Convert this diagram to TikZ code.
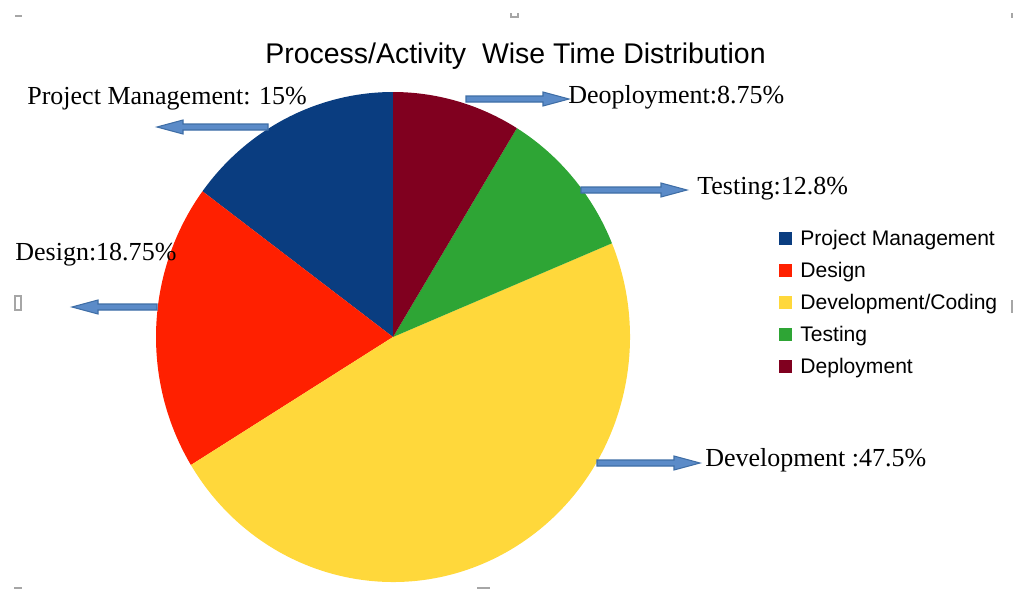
\documentclass[tikz,border=0pt]{standalone}
\usepackage{fontspec}
\setmainfont{Liberation Serif}
\newfontfamily\chartsans{Liberation Sans}
\usetikzlibrary{positioning}
\definecolor{pmblue}{HTML}{0A3D80}
\definecolor{desred}{HTML}{FF2000}
\definecolor{devyellow}{HTML}{FFD83B}
\definecolor{testgreen}{HTML}{2EA535}
\definecolor{depmaroon}{HTML}{80001F}
\definecolor{arrfill}{HTML}{5B8BC8}
\definecolor{arrline}{HTML}{3F6EA6}
\tikzset{
  lbl/.style={font=\fontsize{14.8}{17}\selectfont, inner sep=0pt, anchor=base west},
  legtext/.style={font=\chartsans\fontsize{12}{14}\selectfont, inner sep=0pt, anchor=base west},
  blockarrow/.style={fill=arrfill, draw=arrline, line width=0.6pt},
  handle/.style={draw=gray!70, line width=0.8pt}
}

\begin{document}
\begin{tikzpicture}[x=0.02cm, y=-0.02cm]
\useasboundingbox (0,0) rectangle (1015,589);
% pie
\begin{scope}[shift={(393,337)}, yscale=-1]
\foreach \a/\b/\c in {90/143.5/pmblue, 143.5/211.5/desred, 211.5/382.5/devyellow, 22.5/58.5/testgreen, 58.5/90/depmaroon}
  \fill[\c] (0,0) -- (\a:237 and 245) arc[start angle=\a, end angle=\b, x radius=237, y radius=245] -- cycle;
\end{scope}
% title and labels
\node[font=\chartsans\fontsize{16.2}{19}\selectfont, inner sep=0pt, anchor=base west] (title) at (265,63) {Process/Activity~~Wise Time Distribution};
\node[lbl] (pmlbl) at (27,104) {Project Management: 15\%};
\node[lbl] (deplbl) at (568,103) {Deoployment:8.75\%};
\node[lbl] (testlbl) at (697,194) {Testing:12.8\%};
\node[lbl] (deslbl) at (15,260) {Design:18.75\%};
\node[lbl] (devlbl) at (705,466) {Development :47.5\%};
% block arrows: tail x / tip x / y
\foreach \tx/\hx/\y in {268/157/127, 466/569/99, 581/687/190, 157/72/307, 597/700/463} {
  \pgfmathsetmacro{\hb}{\hx>\tx ? \hx-26 : \hx+26}
  \draw[blockarrow] (\tx,\y-3) -- (\hb,\y-3) -- (\hb,\y-7) -- (\hx,\y) -- (\hb,\y+7) -- (\hb,\y+3) -- (\tx,\y+3) -- cycle;
}
% legend
\foreach \c/\t [count=\i] in {pmblue/{Project Management}, desred/Design, devyellow/{Development/Coding}, testgreen/Testing, depmaroon/Deployment} {
  \fill[\c] (779,{245+32*(\i-1)}) rectangle ++(13,-13);
  \node[legtext] (leg\i) at (800,{245+32*(\i-1)}) {\t};
}
% selection handles
\draw[handle] (15,16) -- (22,16);
\draw[handle] (511,13) -- (511,17) -- (518,17) -- (518,13);
\draw[handle] (1012,13) -- (1012,18);
\draw[handle] (15,296) rectangle (21,310);
\draw[handle] (1012,300) -- (1012,313);
\draw[handle] (14,588) -- (22,588);
\draw[handle] (477,588) -- (490,588);
\end{tikzpicture}
\end{document}
